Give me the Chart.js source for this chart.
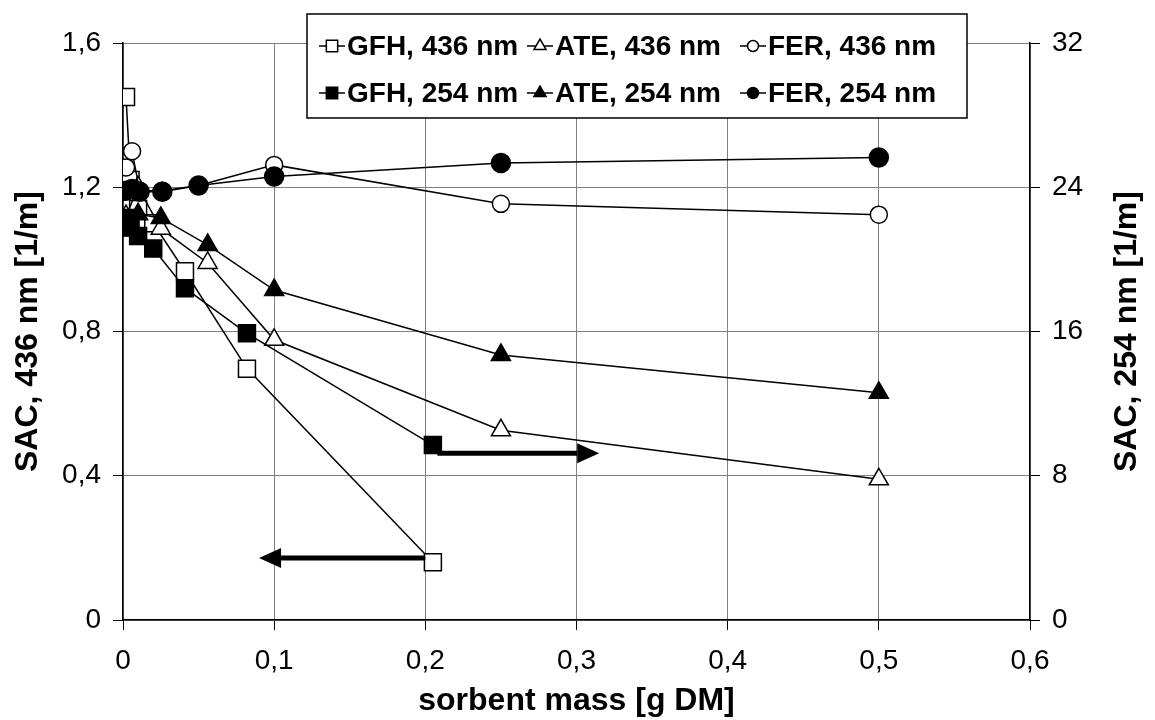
<!DOCTYPE html>
<html>
<head>
<meta charset="utf-8">
<script src="https://cdn.jsdelivr.net/npm/chart.js@4.4.1/dist/chart.umd.min.js"></script>
<style>
  html, body { margin: 0; padding: 0; background: #fff; }
  #wrap { width: 1155px; height: 720px; }
</style>
</head>
<body>
<div id="wrap"><canvas id="sacChart" width="1155" height="720"></canvas></div>
<script>
// sorbent mass [g DM] per series
const gfhMass = [0.002, 0.005, 0.01, 0.02, 0.041, 0.082, 0.205];
const ateMass = [0.002, 0.01, 0.025, 0.056, 0.1, 0.25, 0.5];
const ferMass = [0.002, 0.006, 0.011, 0.026, 0.05, 0.1, 0.25, 0.5];

// SAC 436 nm [1/m] (left axis)
const gfh436 = [1.45, 1.22, 1.14, 1.10, 0.967, 0.697, 0.16];
const ate436 = [1.12, 1.20, 1.085, 0.99, 0.777, 0.526, 0.39];
const fer436 = [1.255, 1.30, 1.19, 1.19, 1.205, 1.262, 1.154, 1.124];

// SAC 254 nm [1/m] (right axis)
const gfh254 = [22.3, 21.8, 21.3, 20.6, 18.4, 15.9, 9.7];
const ate254 = [21.6, 22.5, 22.3, 20.8, 18.3, 14.7, 12.6];
const fer254 = [23.8, 23.9, 23.75, 23.75, 24.1, 24.6, 25.35, 25.65];

const xTicks = [0, 0.1, 0.2, 0.3, 0.4, 0.5, 0.6];
const yTicks = [0, 0.4, 0.8, 1.2, 1.6];
const y2Ticks = [0, 8, 16, 24, 32];

// arrows telling which axis a curve belongs to (data units)
const leftArrow = { from: 0.2, to: 0.09, at: 0.172 };
const rightArrow = { from: 0.208, to: 0.315, at: 9.25 };

const FONT = "'Liberation Sans', Arial, sans-serif";
const comma = v => Number(v.toFixed(2)).toString().replace('.', ',');
const pts = (m, v) => m.map((x, i) => ({ x: x, y: v[i] }));

function series(label, mass, vals, axis, style, radius, filled, order) {
  return {
    label: label,
    data: pts(mass, vals),
    yAxisID: axis,
    borderColor: '#000',
    borderWidth: 1.5,
    backgroundColor: filled ? '#000' : '#fff',
    pointBackgroundColor: filled ? '#000' : '#fff',
    pointBorderColor: '#000',
    pointBorderWidth: 1.5,
    pointStyle: style,
    pointRadius: radius,
    pointHoverRadius: radius,
    tension: 0,
    order: order
  };
}

const datasets = [
  series('GFH, 436 nm', gfhMass, gfh436, 'y', 'rect', 12, false, 6),
  series('ATE, 436 nm', ateMass, ate436, 'y', 'triangle', 11, false, 5),
  series('FER, 436 nm', ferMass, fer436, 'y', 'circle', 8.5, false, 4),
  series('GFH, 254 nm', gfhMass, gfh254, 'y2', 'rect', 12, true, 3),
  series('ATE, 254 nm', ateMass, ate254, 'y2', 'triangle', 11, true, 2),
  series('FER, 254 nm', ferMass, fer254, 'y2', 'circle', 9.5, true, 1)
];

function drawArrow(ctx, x1, y, x2) {
  const dir = x2 > x1 ? 1 : -1;
  const head = 22;
  ctx.save();
  ctx.strokeStyle = '#000';
  ctx.fillStyle = '#000';
  ctx.lineWidth = 5;
  ctx.beginPath();
  ctx.moveTo(x1, y);
  ctx.lineTo(x2 - dir * head, y);
  ctx.stroke();
  ctx.beginPath();
  ctx.moveTo(x2, y);
  ctx.lineTo(x2 - dir * head, y - 10);
  ctx.lineTo(x2 - dir * head, y + 10);
  ctx.closePath();
  ctx.fill();
  ctx.restore();
}

const arrowPlugin = {
  id: 'arrows',
  afterDatasetsDraw(chart) {
    const { ctx, scales } = chart;
    const x = scales.x;
    drawArrow(ctx, x.getPixelForValue(leftArrow.from), scales.y.getPixelForValue(leftArrow.at), x.getPixelForValue(leftArrow.to));
    drawArrow(ctx, x.getPixelForValue(rightArrow.from), scales.y2.getPixelForValue(rightArrow.at), x.getPixelForValue(rightArrow.to));
  }
};

// right axis title reads bottom-to-top like the left one
const rightTitle = {
  id: 'rightTitle',
  afterDraw(chart) {
    const { ctx, chartArea } = chart;
    ctx.save();
    ctx.translate(chart.width - 28, (chartArea.top + chartArea.bottom) / 2);
    ctx.rotate(-Math.PI / 2);
    ctx.font = 'bold 32px ' + FONT;
    ctx.fillStyle = '#000';
    ctx.textAlign = 'center';
    ctx.textBaseline = 'middle';
    ctx.fillText('SAC, 254 nm [1/m]', 0, 0);
    ctx.restore();
  }
};

// boxed two-row legend sitting over the top of the plot
const boxLegend = {
  id: 'boxLegend',
  afterDraw(chart) {
    const ctx = chart.ctx;
    const cols = [319, 527, 740];
    const rows = [46, 93];
    ctx.save();
    ctx.fillStyle = '#fff';
    ctx.fillRect(307, 14, 660, 104);
    ctx.strokeStyle = '#000';
    ctx.lineWidth = 1.5;
    ctx.strokeRect(307, 14, 660, 104);
    ctx.font = 'bold 28px ' + FONT;
    ctx.textBaseline = 'middle';
    chart.data.datasets.forEach((ds, i) => {
      const cx = cols[i % 3];
      const cy = rows[Math.floor(i / 3)];
      ctx.strokeStyle = '#000';
      ctx.lineWidth = 1.5;
      ctx.beginPath();
      ctx.moveTo(cx, cy);
      ctx.lineTo(cx + 26, cy);
      ctx.stroke();
      ctx.fillStyle = ds.pointBackgroundColor;
      Chart.helpers.drawPoint(ctx, {
        pointStyle: ds.pointStyle,
        radius: ds.pointStyle === 'rect' ? 8 : (ds.pointStyle === 'triangle' ? 7 : 5.5),
        rotation: 0,
        borderWidth: 1.2
      }, cx + 13, cy);
      ctx.fillStyle = '#000';
      ctx.fillText(ds.label, cx + 28, cy + 1);
    });
    ctx.restore();
  }
};

new Chart(document.getElementById('sacChart').getContext('2d'), {
  type: 'line',
  data: { datasets: datasets },
  plugins: [arrowPlugin, rightTitle, boxLegend],
  options: {
    responsive: false,
    animation: false,
    layout: { padding: { top: 43, left: 0, right: 0, bottom: 0 } },
    plugins: {
      legend: { display: false },
      tooltip: { enabled: false }
    },
    scales: {
      x: {
        type: 'linear',
        min: 0,
        max: 0.6,
        afterFit: s => { s.height = 100; },
        afterBuildTicks: s => { s.ticks = xTicks.map(v => ({ value: v })); },
        grid: { color: '#808080', lineWidth: 1, tickLength: 10, tickColor: '#000' },
        border: { color: '#000', width: 1.5 },
        ticks: { color: '#000', font: { family: FONT, size: 28 }, padding: 14, callback: comma, maxRotation: 0 },
        title: { display: true, text: 'sorbent mass [g DM]', color: '#000', font: { family: FONT, size: 32, weight: 'bold' }, padding: { top: 0, bottom: 0 } }
      },
      y: {
        position: 'left',
        min: 0,
        max: 1.6,
        afterFit: s => { s.width = 123; },
        afterBuildTicks: s => { s.ticks = yTicks.map(v => ({ value: v })); },
        grid: { color: '#808080', lineWidth: 1, tickLength: 10, tickColor: '#000' },
        border: { color: '#000', width: 1.5 },
        ticks: { color: '#000', font: { family: FONT, size: 28 }, padding: 12, callback: comma },
        title: { display: true, text: 'SAC, 436 nm [1/m]', color: '#000', font: { family: FONT, size: 32, weight: 'bold' }, padding: { top: 9, bottom: 0 } }
      },
      y2: {
        position: 'right',
        min: 0,
        max: 32,
        afterFit: s => { s.width = 125; },
        afterBuildTicks: s => { s.ticks = y2Ticks.map(v => ({ value: v })); },
        grid: { drawOnChartArea: false, tickLength: 10, tickColor: '#000' },
        border: { color: '#000', width: 1.5 },
        ticks: { color: '#000', font: { family: FONT, size: 28 }, padding: 12, callback: comma },
        title: { display: false }
      }
    }
  }
});
</script>
</body>
</html>
